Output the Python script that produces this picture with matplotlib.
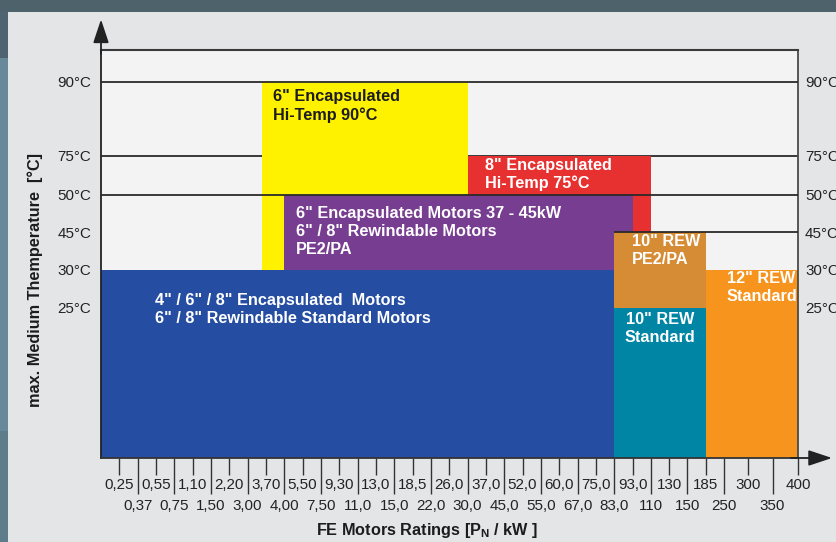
import numpy as np
import matplotlib
matplotlib.use('Agg')
import matplotlib.pyplot as plt
from matplotlib.patches import Rectangle
from matplotlib.ticker import FixedLocator, FixedFormatter
from matplotlib.transforms import ScaledTranslation

plt.rcParams['font.family'] = ['Liberation Sans', 'DejaVu Sans']
plt.rcParams['mathtext.fontset'] = 'custom'
plt.rcParams['mathtext.rm'] = 'Liberation Sans'
plt.rcParams['mathtext.bf'] = 'Liberation Sans:bold'

# ---------------- data ----------------
power_top = [0.25, 0.55, 1.10, 2.20, 3.70, 5.50, 9.30, 13.0, 18.5, 26.0,
             37.0, 52.0, 60.0, 75.0, 93.0, 130, 185, 300, 400]
power_top_labels = ['0,25', '0,55', '1,10', '2,20', '3,70', '5,50', '9,30', '13,0',
                    '18,5', '26,0', '37,0', '52,0', '60,0', '75,0', '93,0', '130',
                    '185', '300', '400']
power_bottom = [0.37, 0.75, 1.50, 3.00, 4.00, 7.50, 11.0, 15.0, 22.0, 30.0,
                45.0, 55.0, 67.0, 83.0, 110, 150, 250, 350]
power_bottom_labels = ['0,37', '0,75', '1,50', '3,00', '4,00', '7,50', '11,0', '15,0',
                       '22,0', '30,0', '45,0', '55,0', '67,0', '83,0', '110', '150',
                       '250', '350']
temp_levels = [25, 30, 45, 50, 75, 90]
temp_labels = ['25°C', '30°C', '45°C', '50°C', '75°C', '90°C']

region_labels = ['4" / 6" / 8" Encapsulated  Motors\n6" / 8" Rewindable Standard Motors',
                 '6" Encapsulated\nHi-Temp 90°C',
                 '8" Encapsulated\nHi-Temp 75°C',
                 '6" Encapsulated Motors 37 - 45kW\n6" / 8" Rewindable Motors\nPE2/PA',
                 '10" REW\nPE2/PA',
                 '10" REW\nStandard',
                 '12" REW\nStandard']
region_kw_start = [0, 3.55, 30.0, 4.00, 83.0, 83.0, 185]
region_kw_end = [83.0, 30.0, 110, 93.0, 185, 185, 400]
region_temp_low = [0, 30, 30, 30, 25, 0, 0]
region_temp_high = [30, 90, 75, 50, 45, 25, 30]
region_colors = ['#254ea2', '#fff200', '#e63130', '#773d90', '#d68c34', '#0085a5', '#f7941d']
region_text_colors = ['white', '#1c1c1c', 'white', 'white', 'white', 'white', 'white']

# ---------------- layout ----------------
# ordinal slots of the power axis (evenly spaced, last three wider)
all_power = np.array(sorted(power_top + power_bottom))
x_anchor_vals = np.r_[0.0, all_power]
x_anchor_pos = np.r_[np.arange(0, 35), 35.28, 36.64, 38.03]
y_anchor_vals = np.array([0, 25, 30, 45, 50, 75, 90, 100.0])
y_anchor_pos = np.array([0, 4, 5, 6, 7, 8.04, 10, 10.85])

def fx(v):
    return np.interp(v, x_anchor_vals, x_anchor_pos)
def ifx(p):
    return np.interp(p, x_anchor_pos, x_anchor_vals)
def fy(v):
    return np.interp(v, y_anchor_vals, y_anchor_pos)
def ify(p):
    return np.interp(p, y_anchor_pos, y_anchor_vals)

W, H = 836, 542
fig = plt.figure(figsize=(W / 100, H / 100), dpi=100)
fig.patch.set_facecolor('#e4e5e6')

# screenshot frame decoration
def fig_rect(x0, y0, x1, y1, color):
    fig.add_artist(Rectangle((x0 / W, 1 - y1 / H), (x1 - x0) / W, (y1 - y0) / H,
                             transform=fig.transFigure, facecolor=color,
                             edgecolor='none', zorder=0))
fig_rect(0, 0, W, 12, '#4e626c')
fig_rect(0, 12, 8, 58, '#4e6470')
fig_rect(0, 58, 8, 431, '#67899a')
fig_rect(0, 431, 8, H, '#5e7c89')

ax = fig.add_axes([101 / W, 1 - 458 / H, (798 - 101) / W, (458 - 50) / H])
ax.set_facecolor('#f3f3f3')
ax.set_xscale('function', functions=(fx, ifx))
ax.set_yscale('function', functions=(fy, ify))
ax.set_xlim(0, 400)
ax.set_ylim(0, 100)

line_c = '#2a2a2a'
ax.axhline(75, color=line_c, lw=1.3, zorder=1)

offsets = [(54, -23), (11, -7), (17, -2), (12, -11), (18, -2), (0, -4), (21, -1)]
has = ['left', 'left', 'left', 'left', 'left', 'center', 'left']
for i in range(len(region_labels)):
    x0, x1 = region_kw_start[i], region_kw_end[i]
    y0, y1 = region_temp_low[i], region_temp_high[i]
    ax.bar(x0, y1 - y0, width=x1 - x0, bottom=y0, align='edge',
           color=region_colors[i], edgecolor='none', zorder=2)
    if has[i] == 'center':
        anchor = (ifx((fx(x0) + fx(x1)) / 2), y1)
    else:
        anchor = (x0, y1)
    ax.annotate(region_labels[i], xy=anchor, xytext=offsets[i],
                textcoords='offset pixels', ha=has[i], va='top',
                multialignment=has[i], fontsize=11.7, fontweight='bold',
                color=region_text_colors[i], linespacing=1.25, zorder=5)

ax.axhline(90, color=line_c, lw=1.3, zorder=3)
ax.axhline(50, color=line_c, lw=1.3, zorder=3)
ax.hlines(45, 83.0, 400, color=line_c, lw=1.3, zorder=3)

# spines
ax.spines['top'].set_color('#3a3a3a')
ax.spines['top'].set_linewidth(1.5)
ax.spines['right'].set_color('#4a4a4a')
ax.spines['right'].set_linewidth(1.3)
ax.spines['left'].set_color('#222222')
ax.spines['left'].set_linewidth(1.3)
ax.spines['bottom'].set_color('#333333')
ax.spines['bottom'].set_linewidth(1.3)

arrow = dict(arrowstyle='-|>,head_length=0.9,head_width=0.3', color='#222222',
             lw=1.3, shrinkA=0, shrinkB=0, mutation_scale=16)
ax.annotate('', xy=(0, 1.075), xytext=(0, 0.99), xycoords='axes fraction',
            arrowprops=arrow, annotation_clip=False)
ax.annotate('', xy=(1.0488, 0), xytext=(0.99, 0), xycoords='axes fraction',
            arrowprops=arrow, annotation_clip=False)

# x ticks: two rows
ax.xaxis.set_major_locator(FixedLocator(power_top))
ax.xaxis.set_major_formatter(FixedFormatter(power_top_labels))
ax.xaxis.set_minor_locator(FixedLocator(power_bottom))
ax.xaxis.set_minor_formatter(FixedFormatter(power_bottom_labels))
ax.tick_params(axis='x', which='major', length=12.2, width=1.0, color='#333333',
               pad=2.2, labelsize=10.9, labelcolor='#222222')
ax.tick_params(axis='x', which='minor', length=26, width=1.0, color='#333333',
               pad=3.2, labelsize=10.9, labelcolor='#222222')

# y ticks on both sides, no marks
ax.yaxis.set_major_locator(FixedLocator(temp_levels))
ax.yaxis.set_major_formatter(FixedFormatter(temp_labels))
ax.yaxis.set_minor_locator(FixedLocator([]))
ax.tick_params(axis='y', which='both', length=0, pad=7.2, labelsize=10.9,
               labelcolor='#222222', left=True, right=True,
               labelleft=True, labelright=True)
shift = ScaledTranslation(-3 / 100, 0, fig.dpi_scale_trans)
for t in ax.yaxis.get_major_ticks():
    t.label2.set_transform(t.label2.get_transform() + shift)

fig.text(35 / W, 1 - 280 / H, 'max. Medium Themperature  [°C]', rotation=90,
         ha='center', va='center', fontsize=11.7, fontweight='bold', color='#1c1c1c')
fig.text(427 / W, 1 - 531 / H, r'FE Motors Ratings [P$_{\mathbf{N}}$ / kW ]',
         ha='center', va='center', fontsize=11.7, fontweight='bold', color='#1c1c1c')

fig.savefig('out.png', dpi=100, facecolor=fig.get_facecolor())
